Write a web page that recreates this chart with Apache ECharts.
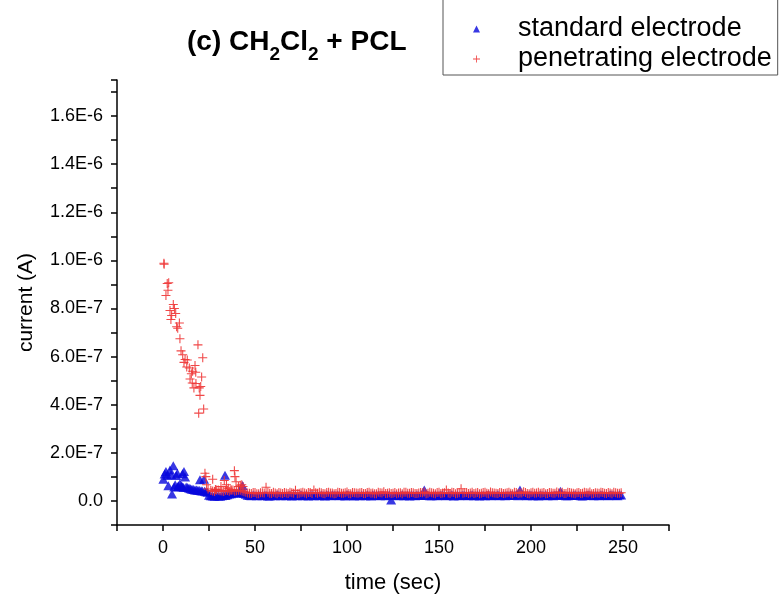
<!DOCTYPE html>
<html lang="en">
<head>
    <meta charset="UTF-8">
    <title>CH2Cl2 + PCL current</title>
    <script src="https://cdn.jsdelivr.net/npm/echarts@6/dist/echarts.min.js"></script>
    <style>
        html, body { margin: 0; padding: 0; background: #fff; }
        #main { width: 782px; height: 599px; }
    </style>
</head>
<body>
<div id="main"></div>
<script>
    // early points, [time (sec), current (A)]
    var stdEarly = [
        [0.2, 9.0e-8], [0.9, 11.2e-8], [1.6, 12.2e-8], [2.3, 10.6e-8], [2.9, 6.3e-8],
        [3.8, 12.9e-8], [4.4, 11.0e-8], [4.9, 2.9e-8], [5.6, 14.6e-8], [6.1, 5.8e-8],
        [6.6, 6.7e-8], [7.2, 10.6e-8], [7.8, 11.5e-8], [8.0, 5.9e-8], [8.4, 6.2e-8],
        [9.2, 7.1e-8], [9.9, 6.2e-8], [10.5, 5.9e-8], [10.6, 11.3e-8], [11.2, 5.6e-8],
        [11.4, 12.2e-8], [12.0, 10.0e-8], [12.6, 5.8e-8], [13.4, 5.6e-8], [14.2, 5.3e-8],
        [15.0, 5.1e-8], [15.8, 4.9e-8], [16.6, 4.8e-8], [17.4, 4.6e-8], [18.2, 4.5e-8],
        [19.0, 4.4e-8], [19.8, 4.3e-8], [20.1, 8.8e-8], [20.7, 4.2e-8], [21.4, 4.1e-8],
        [22.3, 9.0e-8], [22.6, 4.0e-8], [23.4, 3.8e-8], [24.2, 3.6e-8], [25.0, 2.4e-8],
        [33.7, 10.7e-8], [43.2, 6.4e-8]
    ];
    var penEarly = [
        [0.5, 9.88e-7], [0.6, 9.84e-7], [1.6, 8.54e-7], [2.3, 9.04e-7], [2.7, 8.76e-7],
        [3.1, 9.07e-7], [3.8, 7.92e-7], [4.3, 7.54e-7], [4.7, 7.71e-7], [5.6, 8.17e-7],
        [6.2, 8.00e-7], [6.9, 7.79e-7], [7.4, 7.24e-7], [8.0, 7.18e-7], [8.9, 7.40e-7],
        [9.2, 6.74e-7], [9.8, 6.24e-7], [10.7, 6.08e-7], [11.4, 5.76e-7], [12.0, 5.88e-7],
        [12.9, 5.57e-7], [13.2, 5.86e-7], [14.3, 5.53e-7], [14.7, 5.07e-7], [15.4, 5.29e-7],
        [15.9, 4.90e-7], [16.1, 5.39e-7], [16.8, 4.70e-7], [17.4, 5.63e-7], [17.8, 5.35e-7],
        [17.9, 4.88e-7], [19.0, 6.49e-7], [19.4, 3.65e-7], [19.7, 4.70e-7], [20.1, 4.39e-7],
        [20.5, 4.76e-7], [21.0, 5.15e-7], [21.6, 5.95e-7], [22.1, 3.82e-7],
        [22.8, 11.5e-8], [23.3, 10.1e-8], [23.7, 6.7e-8], [24.5, 5.0e-8], [27.0, 9.0e-8],
        [28.5, 4.8e-8], [31.5, 6.0e-8], [33.3, 8.5e-8], [34.5, 6.7e-8], [35.5, 5.3e-8],
        [37.0, 4.6e-8], [38.8, 12.6e-8], [39.1, 10.1e-8], [39.7, 8.0e-8], [41.0, 6.0e-8],
        [42.0, 6.5e-8], [42.8, 6.7e-8], [43.5, 6.0e-8]
    ];

    // steady part, even seconds; current in units of 1E-8 A
    var baseTime = [
        26, 28, 30, 32, 34, 36, 38, 40, 42, 44,
        46, 48, 50, 52, 54, 56, 58, 60, 62, 64,
        66, 68, 70, 72, 74, 76, 78, 80, 82, 84,
        86, 88, 90, 92, 94, 96, 98, 100, 102, 104,
        106, 108, 110, 112, 114, 116, 118, 120, 122, 124,
        126, 128, 130, 132, 134, 136, 138, 140, 142, 144,
        146, 148, 150, 152, 154, 156, 158, 160, 162, 164,
        166, 168, 170, 172, 174, 176, 178, 180, 182, 184,
        186, 188, 190, 192, 194, 196, 198, 200, 202, 204,
        206, 208, 210, 212, 214, 216, 218, 220, 222, 224,
        226, 228, 230, 232, 234, 236, 238, 240, 242, 244,
        246, 248
    ];
    var stdBase = [
        2.2, 2.0, 2.1, 2.2, 2.3, 2.9, 3.2, 3.4, 3.6, 3.1,
        2.4, 2.2, 2.3, 2.5, 2.2, 2.4, 2.1, 2.3, 2.6, 2.2,
        2.4, 2.3, 2.1, 2.5, 2.3, 2.2, 2.6, 2.4, 2.2, 2.3,
        2.5, 2.1, 2.4, 2.6, 2.3, 2.2, 2.4, 2.7, 2.3, 2.1,
        2.4, 2.5, 2.2, 2.3, 2.6, 2.4, 2.2, 2.5, 2.3, 0.4,
        2.4, 2.2, 2.6, 2.3, 2.1, 2.4, 2.5, 2.3, 4.6, 2.4,
        2.2, 2.5, 2.3, 2.6, 2.2, 2.4, 2.1, 2.5, 2.3, 2.4,
        2.2, 2.6, 2.3, 2.1, 2.4, 2.5, 2.2, 2.3, 2.6, 2.4,
        2.2, 2.3, 2.5, 2.7, 4.5, 2.4, 2.2, 2.5, 2.3, 2.1,
        2.4, 2.6, 2.3, 2.2, 2.5, 4.0, 2.4, 2.2, 2.3, 2.6,
        2.4, 2.1, 2.3, 2.5, 2.2, 2.4, 2.6, 2.3, 2.2, 2.5,
        2.3, 2.6
    ];
    var penBase = [
        4.3, 3.9, 4.5, 4.1, 4.4, 4.0, 4.6, 4.2, 4.4, 3.8,
        3.3, 3.1, 3.5, 3.0, 3.4, 5.7, 3.2, 3.6, 3.0, 3.3,
        3.5, 3.1, 3.4, 4.4, 3.2, 3.6, 3.0, 3.5, 4.5, 3.2,
        3.4, 3.0, 3.6, 3.3, 3.1, 3.5, 3.2, 3.7, 3.0, 3.4,
        3.2, 3.5, 3.1, 3.6, 3.3, 3.0, 3.4, 3.8, 3.2, 3.1,
        3.5, 3.3, 3.0, 3.6, 3.2, 3.4, 3.1, 3.5, 3.7, 3.2,
        3.4, 3.0, 3.6, 3.3, 4.6, 3.1, 3.5, 3.2, 5.1, 3.4,
        3.1, 3.6, 3.3, 3.0, 3.5, 3.2, 3.7, 3.3, 3.1, 3.4,
        3.2, 3.6, 3.0, 3.5, 3.3, 3.8, 3.1, 3.4, 3.2, 3.6,
        3.3, 3.0, 3.5, 3.2, 3.7, 3.4, 3.1, 3.6, 3.3, 3.0,
        3.5, 3.2, 3.4, 3.7, 3.1, 3.3, 3.6, 3.2, 3.5, 3.0,
        3.4, 3.2
    ];

    // steady part, odd seconds; current in units of 1E-8 A
    var baseTimeOdd = [
        27, 29, 31, 33, 35, 37, 39, 41, 43, 45,
        47, 49, 51, 53, 55, 57, 59, 61, 63, 65,
        67, 69, 71, 73, 75, 77, 79, 81, 83, 85,
        87, 89, 91, 93, 95, 97, 99, 101, 103, 105,
        107, 109, 111, 113, 115, 117, 119, 121, 123, 125,
        127, 129, 131, 133, 135, 137, 139, 141, 143, 145,
        147, 149, 151, 153, 155, 157, 159, 161, 163, 165,
        167, 169, 171, 173, 175, 177, 179, 181, 183, 185,
        187, 189, 191, 193, 195, 197, 199, 201, 203, 205,
        207, 209, 211, 213, 215, 217, 219, 221, 223, 225,
        227, 229, 231, 233, 235, 237, 239, 241, 243, 245,
        247, 249
    ];
    var stdBaseOdd = [
        2.1, 2.3, 2.0, 2.4, 2.6, 3.0, 3.3, 3.5, 3.3, 2.8,
        2.3, 2.5, 2.2, 2.4, 2.3, 2.1, 2.5, 2.2, 2.4, 2.3,
        2.2, 2.5, 2.4, 2.2, 2.6, 2.3, 2.1, 2.5, 2.4, 2.2,
        2.3, 2.6, 2.2, 2.4, 2.5, 2.3, 2.1, 2.4, 2.6, 2.3,
        2.2, 2.4, 2.6, 2.1, 2.3, 2.5, 2.4, 2.2, 2.6, 2.3,
        2.5, 2.3, 2.2, 2.4, 2.6, 2.2, 2.3, 2.5, 2.4, 2.2,
        2.4, 2.2, 2.5, 2.3, 2.4, 2.6, 2.3, 2.2, 2.5, 2.3,
        2.4, 2.2, 2.5, 2.3, 2.2, 2.6, 2.4, 2.3, 2.2, 2.5,
        2.4, 2.6, 2.3, 2.2, 2.8, 2.3, 2.5, 2.2, 2.4, 2.6,
        2.3, 2.2, 2.4, 2.5, 2.3, 2.6, 2.2, 2.4, 2.5, 2.3,
        2.2, 2.4, 2.6, 2.3, 2.5, 2.2, 2.4, 2.3, 2.6, 2.4,
        2.2, 2.5
    ];
    var penBaseOdd = [
        4.1, 4.6, 4.2, 3.9, 4.3, 4.5, 4.0, 4.4, 4.1, 3.6,
        3.2, 3.5, 3.0, 3.4, 3.3, 3.6, 3.1, 3.3, 3.5, 3.1,
        3.3, 3.6, 3.2, 3.0, 3.4, 3.3, 3.5, 3.1, 3.4, 3.6,
        3.1, 3.5, 3.3, 3.0, 3.6, 3.2, 3.4, 3.1, 3.5, 3.3,
        3.4, 3.1, 3.5, 3.2, 3.0, 3.6, 3.3, 3.1, 3.4, 3.2,
        3.0, 3.4, 3.6, 3.2, 3.5, 3.1, 3.3, 3.4, 3.0, 3.6,
        3.2, 3.5, 3.1, 3.4, 3.3, 3.6, 3.0, 3.4, 3.2, 3.5,
        3.3, 3.1, 3.5, 3.2, 3.6, 3.0, 3.4, 3.2, 3.5, 3.1,
        3.4, 3.2, 3.6, 3.1, 3.3, 3.5, 3.0, 3.6, 3.3, 3.2,
        3.5, 3.1, 3.4, 3.2, 3.3, 3.6, 3.1, 3.5, 3.2, 3.4,
        3.1, 3.6, 3.3, 3.0, 3.4, 3.2, 3.5, 3.1, 3.3, 3.6,
        3.2, 3.4
    ];

    var seriesNames = ['standard electrode', 'penetrating electrode'];

    var font = '"Liberation Sans", Arial, sans-serif';
    var plusPath = 'path://M4.4,0 H5.6 V4.4 H10 V5.6 H5.6 V10 H4.4 V5.6 H0 V4.4 H4.4 Z';

    function pairs(times, vals) {
        return times.map(function (t, i) { return [t, vals[i] * 1e-8]; });
    }
    var stdData = stdEarly.concat(pairs(baseTime, stdBase), pairs(baseTimeOdd, stdBaseOdd));
    var penData = penEarly.concat(pairs(baseTime, penBase), pairs(baseTimeOdd, penBaseOdd));

    // labels only on every second tick: 0.0, 2.0E-7 ... 1.6E-6
    function yLabel(v) {
        var q = v / 1e-7;
        var k = Math.round(q);
        if (Math.abs(q - k) > 1e-3) return '';
        if (k === 0) return '0.0';
        if (k < 0 || k % 2 !== 0) return '';
        if (k >= 10) return (k / 10).toFixed(1) + 'E-6';
        return k.toFixed(1) + 'E-7';
    }

    var myChart = echarts.init(document.getElementById('main'));
    var option = {
        animation: false,
        backgroundColor: '#fff',
        title: {
            text: '{a|(c) CH}{s|2}{a|Cl}{s|2}{a| + PCL}',
            left: 187,
            top: 20,
            padding: 0,
            textStyle: {
                rich: {
                    a: { fontSize: 28, fontWeight: 'bold', fontFamily: font, color: '#000', lineHeight: 44 },
                    s: { fontSize: 19, fontWeight: 'bold', fontFamily: font, color: '#000', lineHeight: 19, verticalAlign: 'bottom' }
                }
            }
        },
        legend: {
            data: seriesNames,
            orient: 'vertical',
            left: 443,
            top: -10,
            padding: [24, 6, 1, 30],
            itemGap: 0,
            itemWidth: 7,
            itemHeight: 7,
            borderColor: '#555',
            borderWidth: 1,
            textStyle: {
                fontSize: 27,
                fontFamily: font,
                color: '#000',
                lineHeight: 30,
                padding: [0, 0, 0, 33]
            }
        },
        grid: {
            left: 117,
            right: 113,
            top: 80,
            bottom: 74
        },
        xAxis: {
            type: 'value',
            min: -25,
            max: 275,
            interval: 25,
            name: 'time (sec)',
            nameLocation: 'middle',
            nameGap: 47,
            nameTextStyle: { fontSize: 22, fontFamily: font, color: '#000' },
            axisLine: { onZero: false, lineStyle: { color: '#000', width: 1.5 } },
            axisTick: { inside: false, length: 6, lineStyle: { color: '#000', width: 1.5 } },
            axisLabel: {
                margin: 14,
                fontSize: 18,
                fontFamily: font,
                color: '#000',
                formatter: function (v) { return (v >= 0 && v % 50 === 0) ? String(v) : ''; }
            },
            splitLine: { show: false }
        },
        yAxis: {
            type: 'value',
            min: -1e-7,
            max: 1.75e-6,
            interval: 1e-7,
            name: 'current (A)',
            nameLocation: 'middle',
            nameGap: 80,
            nameTextStyle: { fontSize: 21, fontFamily: font, color: '#000' },
            axisLine: { show: true, onZero: false, lineStyle: { color: '#000', width: 1.5 } },
            axisTick: { show: true, inside: false, length: 6, lineStyle: { color: '#000', width: 1.5 } },
            axisLabel: {
                margin: 14,
                fontSize: 18,
                fontFamily: font,
                color: '#000',
                formatter: yLabel
            },
            splitLine: { show: false }
        },
        series: [
            {
                name: seriesNames[0],
                type: 'scatter',
                symbol: 'triangle',
                symbolSize: [10, 9],
                itemStyle: { color: '#0606dc' },
                data: stdData
            },
            {
                name: seriesNames[1],
                type: 'scatter',
                symbol: plusPath,
                symbolSize: 9,
                itemStyle: { color: '#ee3434', opacity: 0.9 },
                data: penData
            }
        ]
    };
    myChart.setOption(option);
    window.onresize = myChart.resize;
</script>
</body>
</html>
